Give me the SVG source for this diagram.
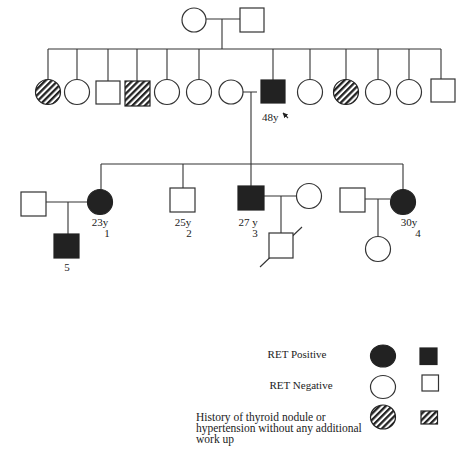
<svg xmlns="http://www.w3.org/2000/svg" width="474" height="450" viewBox="0 0 474 450">
<defs>
<pattern id="hatch" patternUnits="userSpaceOnUse" width="4.4" height="4.4" patternTransform="rotate(45)">
<rect x="0" y="0" width="4.4" height="4.4" fill="#fff"/>
<rect x="0" y="0" width="2.3" height="4.4" fill="#222"/>
</pattern>
<marker id="arr" viewBox="0 0 10 10" refX="9" refY="5" markerWidth="5" markerHeight="5" orient="auto">
<path d="M0,0 L10,5 L0,10 z" fill="#222"/>
</marker>
</defs>
<style>
.s{stroke:#333;stroke-width:1.2;fill:#fff}
.f{stroke:#222;stroke-width:1.2;fill:#222}
.h{stroke:#222;stroke-width:1.2;fill:url(#hatch)}
.l{stroke:#333;stroke-width:1.1;fill:none}
text{font-family:"Liberation Serif","Times New Roman",serif;font-size:11px;fill:#222}
.lg{font-size:11px}
.lh{font-size:11.5px}
</style>
<rect width="474" height="450" fill="#fff"/>
<g id="connectors">
<path class="l" d="M206,19 H240 M222,19 V49 M48,49 H441"/>
<path class="l" d="M48,49 V79 M77,49 V79 M108,49 V81 M137,49 V81 M167,49 V79 M199,49 V79 M273,49 V80 M310,49 V79 M346,49 V79 M378,49 V79 M409,49 V79 M441,49 V79"/>
<path class="l" d="M243,92 H257 M251,92 V164 M101,164 H403 M101,164 V189 M183,164 V188 M251,164 V186 M403,164 V190"/>
<path class="l" d="M46,202 H88 M68,202 V234"/>
<path class="l" d="M264,196 H296 M281,196 V233"/>
<path class="l" d="M365,199 H390 M378,199 V237"/>
<path class="l" d="M260,267 L302,227"/>
<path class="l" d="M288,118 L283,113" marker-end="url(#arr)"/>
</g>
<g id="gen1">
<g id="g1f"><circle class="s" cx="194" cy="20" r="12"/></g>
<g id="g1m"><rect class="s" x="240" y="8" width="24" height="24"/></g>
</g>
<g id="gen2">
<g id="g2_1"><circle class="h" cx="48" cy="92" r="12.5"/></g>
<g id="g2_2"><circle class="s" cx="77" cy="92" r="12.5"/></g>
<g id="g2_3"><rect class="s" x="96" y="81" width="24" height="23"/></g>
<g id="g2_4"><rect class="h" x="125" y="81" width="25" height="25"/></g>
<g id="g2_5"><circle class="s" cx="167" cy="92" r="12.5"/></g>
<g id="g2_6"><circle class="s" cx="199" cy="92" r="12.5"/></g>
<g id="g2_7"><circle class="s" cx="231" cy="92" r="12"/></g>
<g id="g2_8"><rect class="f" x="261" y="80" width="24" height="23"/><text x="262" y="121">48y</text></g>
<g id="g2_9"><circle class="s" cx="310" cy="92" r="12.5"/></g>
<g id="g2_10"><circle class="h" cx="346" cy="92" r="12.5"/></g>
<g id="g2_11"><circle class="s" cx="378" cy="92" r="12.5"/></g>
<g id="g2_12"><circle class="s" cx="409" cy="92" r="12.5"/></g>
<g id="g2_13"><rect class="s" x="431" y="79" width="24" height="23"/></g>
</g>
<g id="gen3">
<g id="sp1"><rect class="s" x="21" y="192" width="25" height="24"/></g>
<g id="c1"><circle class="f" cx="100" cy="202" r="12.5"/><text x="100" y="226" text-anchor="middle">23y</text><text x="107" y="237" text-anchor="middle">1</text></g>
<g id="c2"><rect class="s" x="170" y="188" width="25" height="24"/><text x="183" y="226" text-anchor="middle">25y</text><text x="189" y="237" text-anchor="middle">2</text></g>
<g id="c3"><rect class="f" x="238" y="186" width="26" height="24"/><text x="248" y="226" text-anchor="middle">27 y</text><text x="255" y="237" text-anchor="middle">3</text></g>
<g id="sp3"><circle class="s" cx="309" cy="196" r="12.5"/></g>
<g id="sp4"><rect class="s" x="340" y="188" width="25" height="24"/></g>
<g id="c4"><circle class="f" cx="403" cy="202" r="12.5"/><text x="409" y="226" text-anchor="middle">30y</text><text x="418" y="237" text-anchor="middle">4</text></g>
</g>
<g id="gen4">
<g id="c5"><rect class="f" x="54" y="234" width="25" height="24"/><text x="67" y="271" text-anchor="middle">5</text></g>
<g id="c6"><rect class="s" x="269" y="233" width="24" height="25"/></g>
<g id="c7"><circle class="s" cx="378" cy="249" r="12.5"/></g>
</g>
<g id="legend">
<text class="lg" x="297" y="358" text-anchor="middle">RET Positive</text>
<ellipse class="f" cx="383" cy="356" rx="12.5" ry="11"/>
<rect class="f" x="420" y="348" width="17" height="16.5"/>
<text class="lg" x="301" y="389" text-anchor="middle">RET Negative</text>
<ellipse class="s" cx="383" cy="387" rx="12.5" ry="11.5"/>
<rect class="s" x="422" y="375" width="16.5" height="16"/>
<text class="lh" x="196" y="421">History of thyroid nodule or</text>
<text class="lh" x="196" y="432">hypertension without any additional</text>
<text class="lh" x="196" y="443">work up</text>
<ellipse class="h" cx="383" cy="417" rx="12.5" ry="12"/>
<rect class="h" x="421" y="411" width="16.5" height="13"/>
</g>
</svg>
